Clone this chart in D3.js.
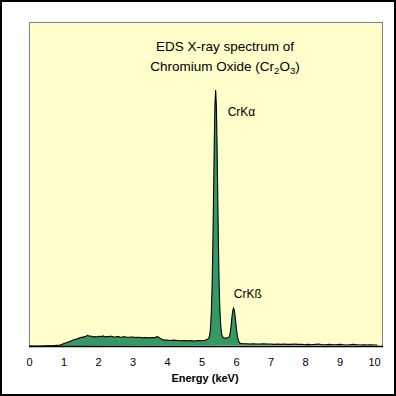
<!DOCTYPE html>
<html><head><meta charset="utf-8">
<script src="https://cdn.jsdelivr.net/npm/d3@7"></script>
<style>
html,body{margin:0;padding:0;background:#fff;}
svg{display:block;}
text{font-family:"Liberation Sans",Arial,sans-serif;}
</style></head>
<body>
<svg id="chart" width="396" height="396"></svg>
<script>
// Energy (keV) sample points
const energy = [
  0,0.1,0.2,0.3,0.4,0.45,0.5,0.6,0.7,0.8,0.9,1.0,1.1,1.2,1.3,1.4,1.5,1.55,1.6,1.65,1.7,1.75,1.8,1.85,1.9,1.95,
  2.0,2.05,2.1,2.15,2.2,2.25,2.3,2.35,2.4,2.45,2.5,2.55,2.6,2.65,2.7,2.75,2.8,2.85,2.9,2.95,
  3.0,3.05,3.1,3.15,3.2,3.25,3.3,3.35,3.4,3.45,3.5,3.55,3.6,3.65,3.7,3.75,3.8,3.85,3.9,3.95,
  4.0,4.1,4.2,4.3,4.4,4.5,4.6,4.7,4.8,4.9,5.0,5.05,5.1,
  5.13,5.17,5.21,5.23,5.25,5.27,5.29,5.31,5.33,5.35,5.37,5.39,5.41,5.43,5.45,5.47,5.49,5.51,5.53,5.55,5.57,5.59,5.61,5.65,5.69,5.73,
  5.77,5.79,5.81,5.83,5.85,5.87,5.89,5.91,5.93,5.95,5.97,5.99,6.01,6.03,6.05,6.07,6.09,6.11,6.15,6.2,6.3,
  6.4,6.5,6.6,6.7,6.8,6.9,7.0,7.1,7.2,7.3,7.4,7.5,7.6,7.7,7.8,7.9,8.0,8.1,8.2,8.3,8.4,8.5,8.6,8.7,8.8,8.9,
  9.0,9.1,9.2,9.3,9.4,9.5,9.6,9.7,9.8,9.9,10.0,10.1,10.2
];
// Counts (arbitrary units)
const counts = [
  0,0,0,0,0,1,1,1,1,2,3,7,11,15,19,22,27,26,29,30,33,30,31,28,29,28,
  29,30,29,31,28,29,29,30,30,28,28,29,29,27,27,29,28,27,27,28,
  28,27,26,27,27,26,25,26,26,25,25,26,26,25,29,28,24,21,19,18,
  18,17,18,17,16,17,16,17,15,17,16,17,17,
  19,21,24,30,44,70,118,195,318,471,627,745,790,745,627,471,318,195,120,75,48,34,28,25,24,25,
  26,27,30,40,55,76,96,111,117,111,96,76,55,38,25,17,12,9,8,7,
  7,6,7,6,6,7,6,6,5,6,5,6,5,5,6,5,5,4,5,4,5,6,4,4,5,4,
  4,5,4,3,4,5,4,3,4,3,4,3,3
];
const xTicks = [0,1,2,3,4,5,6,7,8,9,10];
const titleLines = ["EDS X-ray spectrum of", "Chromium Oxide (Cr", "2", "O", "3", ")"];
const peakLabels = [
  {label: "CrKα", e: 5.41, c: 790},
  {label: "CrKß", e: 5.95, c: 117}
];
const xLabel = "Energy (keV)";

const data = energy.map((e, i) => ({e, c: counts[i]}));

const svg = d3.select("#chart");
const mLeft = 29, mRight = 382, mTop = 22, mBottom = 346;

const x = d3.scaleLinear().domain([0, 10.2]).range([mLeft, mLeft + 34.5 * 10.2]);
const y = d3.scaleLinear().domain([0, 1000]).range([mBottom, mTop]);

// outer frame
svg.append("rect").attr("x", 0).attr("y", 0).attr("width", 396).attr("height", 396).attr("fill", "#fff");
svg.append("rect").attr("x", 1).attr("y", 1).attr("width", 394).attr("height", 394)
  .attr("fill", "none").attr("stroke", "#000").attr("stroke-width", 2);

// plot area
svg.append("rect").attr("x", mLeft + 0.5).attr("y", mTop + 0.5).attr("width", mRight - mLeft).attr("height", mBottom - mTop)
  .attr("fill", "#FFFFCC").attr("stroke", "#808080").attr("stroke-width", 1);

// area
const area = d3.area().x(d => x(d.e)).y0(y(0)).y1(d => y(d.c));
const line = d3.line().x(d => x(d.e)).y(d => y(d.c));
svg.append("path").datum(data).attr("d", area).attr("fill", "#339966");
svg.append("path").datum(data).attr("d", line).attr("fill", "none").attr("stroke", "#000").attr("stroke-width", 1.1);

// x axis
const axis = d3.axisBottom(x).tickValues(xTicks).tickSize(0).tickPadding(12).tickFormat(d3.format("d"));
const g = svg.append("g").attr("transform", `translate(0,${mBottom})`).call(axis);
g.select(".domain").attr("stroke", "#000").attr("stroke-width", 1.5).attr("d", `M${mLeft},0.5H${mRight + 1}`);
g.selectAll("text").attr("font-family", "Liberation Sans, Arial, sans-serif").attr("font-size", 11).attr("fill", "#000");

svg.append("text").attr("x", 205).attr("y", 381.5).attr("text-anchor", "middle")
  .attr("font-size", 11).attr("font-weight", "bold").text(xLabel);

// title
svg.append("text").attr("x", 225).attr("y", 51).attr("text-anchor", "middle").attr("font-size", 13.5).text(titleLines[0]);
const t2 = svg.append("text").attr("x", 225).attr("y", 71).attr("text-anchor", "middle").attr("font-size", 13.5);
t2.append("tspan").text(titleLines[1]);
t2.append("tspan").attr("font-size", 9.5).attr("dy", 3).text(titleLines[2]);
t2.append("tspan").attr("dy", -3).text(titleLines[3]);
t2.append("tspan").attr("font-size", 9.5).attr("dy", 3).text(titleLines[4]);
t2.append("tspan").attr("dy", -3).text(titleLines[5]);

// peak labels
svg.append("text").attr("x", x(peakLabels[0].e) + 12).attr("y", 115.7).attr("font-size", 12).text(peakLabels[0].label);
svg.append("text").attr("x", x(peakLabels[1].e) - 0.5).attr("y", 297.7).attr("font-size", 12).text(peakLabels[1].label);
</script>
</body></html>
